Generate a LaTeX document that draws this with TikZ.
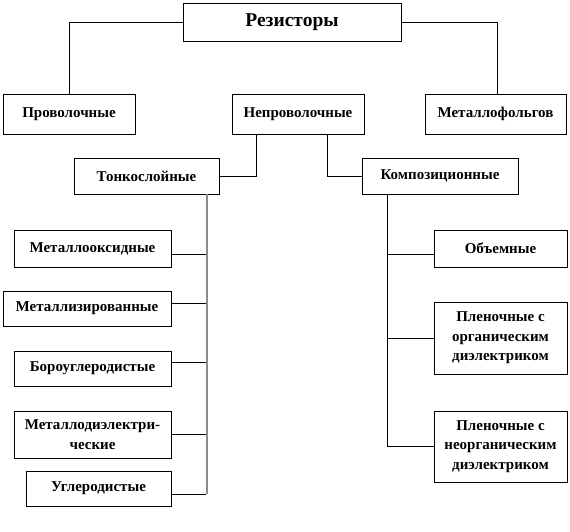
\documentclass[tikz,border=0pt]{standalone}
\usepackage{fontspec}
\setmainfont{Liberation Serif}
\begin{document}
\begin{tikzpicture}[x=1pt,y=-1pt,
  box/.style={draw=black,line width=0.9pt,inner sep=0pt,align=center,
    font=\fontsize{15}{19.5}\selectfont\bfseries},
  conn/.style={draw=black,line width=0.9pt},
  spine/.style={draw=black!45,line width=1.6pt}]
\useasboundingbox (0,0) rectangle (570,531);
\node[box,minimum width=218pt,minimum height=38pt,font=\fontsize{19.5}{22}\selectfont\bfseries] (R) at (292,22) {Резисторы};
\node[box,minimum width=132pt,minimum height=40pt] (Prov) at (69,114) {Проволочные};
\node[box,minimum width=132pt,minimum height=40pt] (Neprov) at (298,114) {Непроволочные};
\node[box,minimum width=141pt,minimum height=40pt] (Metfol) at (495.5,114) {Металлофольгов};
\node[box,minimum width=145pt,minimum height=36pt] (Tonk) at (146.5,176) {Тонкослойные};
\node[box,minimum width=156pt,minimum height=36pt] (Komp) at (440,176) {Композиционные};
\node[box,minimum width=157pt,minimum height=37pt] (MO) at (92.5,248.5) {Металлооксидные};
\node[box,minimum width=168pt,minimum height=35pt] (MZ) at (87,308.5) {Металлизированные};
\node[box,minimum width=157pt,minimum height=35pt] (BU) at (92.5,368.5) {Бороуглеродистые};
\node[box,minimum width=157pt,minimum height=47pt] (MD) at (92.5,434.5) {Металлодиэлектри-\\ческие};
\node[box,minimum width=145pt,minimum height=35pt] (U) at (98.5,488.5) {Углеродистые};
\node[box,minimum width=133pt,minimum height=37pt] (Ob) at (500.5,248.5) {Объемные};
\node[box,minimum width=133pt,minimum height=72pt] (PO) at (500.5,338) {Пленочные с\\органическим\\диэлектриком};
\node[box,minimum width=133pt,minimum height=71pt] (PN) at (500.5,446.5) {Пленочные с\\неорганическим\\диэлектриком};
% top level
\draw[conn] (R.west) -| (Prov.north);
\draw[conn] (R.east) -| ([xshift=1.5pt]Metfol.north);
\draw[conn] ([xshift=-42pt]Neprov.south) |- (Tonk.east);
\draw[conn] ([xshift=29pt]Neprov.south) |- (Komp.west);
% left spine
\coordinate (LS) at (207,494);
\draw[spine] (Tonk.south -| LS) -- (LS);
\draw[conn] (206,254) -- (MO.east |- 0,254);
\draw[conn] (206,303) -- (MZ.east |- 0,303);
\draw[conn] (206,362) -- (BU.east |- 0,362);
\draw[conn] (206,434) -- (MD.east |- 0,434);
\draw[conn] (206,494) -- (U.east |- 0,494);
% right spine
\coordinate (RS) at (387,446);
\draw[conn] (Komp.south -| RS) -- (RS) -- (PN.west |- RS);
\draw[conn] (387,254) -- (Ob.west |- 0,254);
\draw[conn] (387,338) -- (PO.west |- 0,338);
\end{tikzpicture}
\end{document}
